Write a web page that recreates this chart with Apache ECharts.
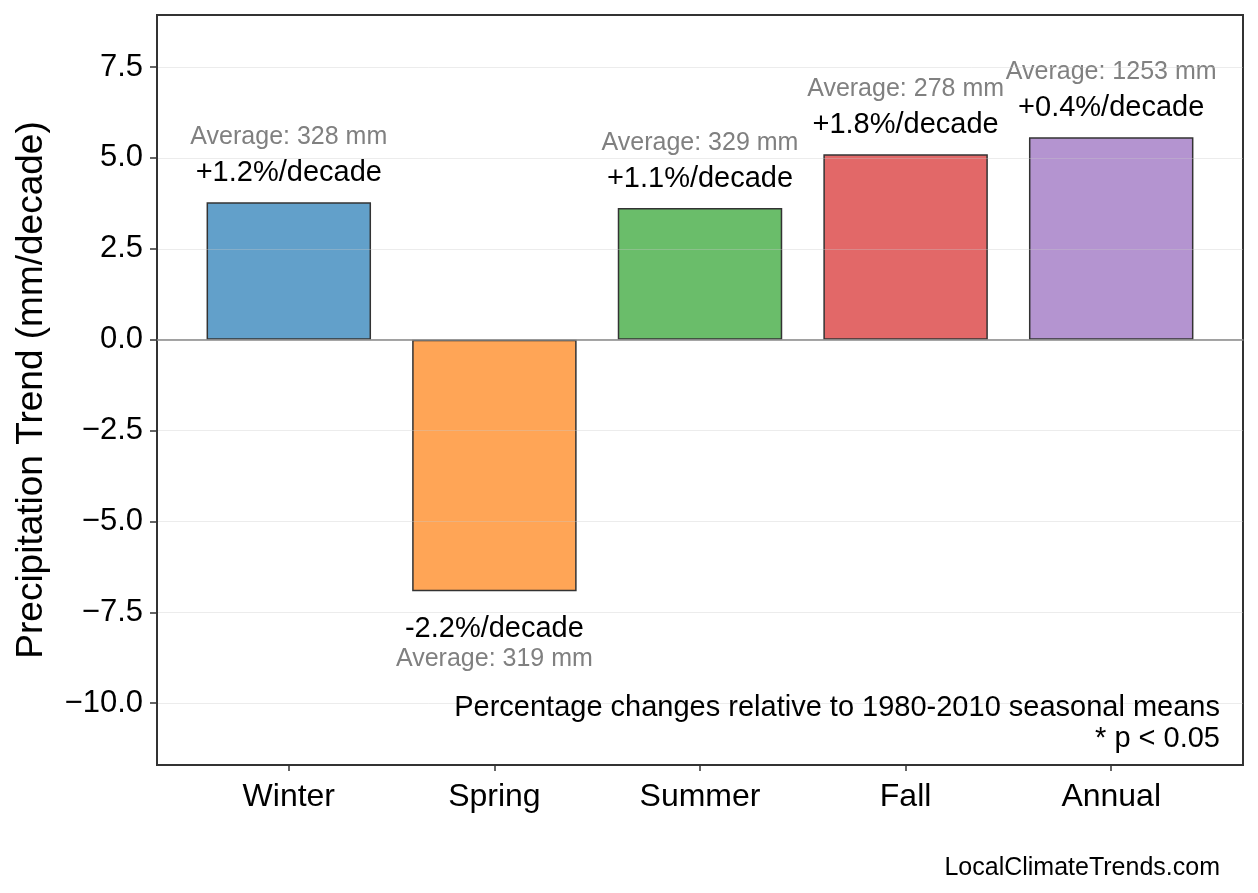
<!DOCTYPE html>
<html>
<head>
<meta charset="utf-8">
<script src="https://cdn.jsdelivr.net/npm/echarts@6/dist/echarts.min.js"></script>
<style>
html,body{margin:0;padding:0;background:#fff;}
#chart{width:1258px;height:893px;}
</style>
</head>
<body>
<div id="chart"></div>
<script>
const categories = ['Winter', 'Spring', 'Summer', 'Fall', 'Annual'];
const trends = [3.78, -6.92, 3.62, 5.10, 5.57];
const pctChanges = ['+1.2', '-2.2', '+1.1', '+1.8', '+0.4'];
const averages = [328, 319, 329, 278, 1253];
const barColors = ['#62a0ca', '#ffa556', '#6abd6a', '#e26868', '#b494d0'];
const yTicks = [-10, -7.5, -5, -2.5, 0, 2.5, 5, 7.5];
const yMin = -11.7, yMax = 8.93;

const FONT = '"Liberation Sans", Arial, Helvetica, sans-serif';

const chart = echarts.init(document.getElementById('chart'), null, {renderer: 'canvas'});

const barData = trends.map((v, i) => ({
  value: v,
  itemStyle: {color: barColors[i]},
  label: v >= 0 ? {
    position: 'top', distance: 12,
    formatter: '{avg|Average: ' + averages[i] + ' mm}\n{pct|' + pctChanges[i] + '%/decade}'
  } : {
    position: 'bottom', distance: 21,
    formatter: '{pct|' + pctChanges[i] + '%/decade}\n{avgB|Average: ' + averages[i] + ' mm}'
  }
}));

const option = {
  backgroundColor: '#ffffff',
  animation: false,
  textStyle: {fontFamily: FONT},
  title: [
    {
      text: 'Percentage changes relative to 1980-2010 seasonal means',
      right: 33, top: 687,
      textStyle: {fontFamily: FONT, fontSize: 29, fontWeight: 'normal', color: '#000', lineHeight: 31}
    },
    {
      text: '* p < 0.05',
      right: 33, top: 718,
      textStyle: {fontFamily: FONT, fontSize: 29, fontWeight: 'normal', color: '#000', lineHeight: 31}
    },
    {
      text: 'LocalClimateTrends.com',
      right: 33, top: 850,
      textStyle: {fontFamily: FONT, fontSize: 25, fontWeight: 'normal', color: '#000', lineHeight: 26}
    }
  ],
  grid: [
    {left: 157, right: 15, top: 15, bottom: 128, show: true, borderColor: '#333', borderWidth: 2, backgroundColor: 'transparent', containLabel: false},
    {left: 186, right: 44, top: 15, bottom: 128, containLabel: false}
  ],
  xAxis: [
    {
      gridIndex: 0, type: 'value', min: 0, max: 1, z: 3,
      axisLine: {show: true, onZero: true, lineStyle: {color: '#888', width: 1.5}},
      axisTick: {show: false}, axisLabel: {show: false}, splitLine: {show: false}
    },
    {
      gridIndex: 1, type: 'category', data: categories,
      axisLine: {show: false, onZero: false},
      axisTick: {show: true, alignWithLabel: true, length: 6, lineStyle: {color: '#333', width: 1.5}},
      axisLabel: {fontFamily: FONT, fontSize: 32, color: '#000', margin: 16},
      splitLine: {show: false}
    }
  ],
  yAxis: [
    {
      gridIndex: 0, type: 'value', min: yMin, max: yMax, z: 3,
      name: 'Precipitation Trend (mm/decade)', nameLocation: 'middle', nameGap: 107,
      nameTextStyle: {fontFamily: FONT, fontSize: 37, color: '#000'},
      axisLine: {show: true, lineStyle: {color: '#333', width: 2}},
      axisTick: {show: true, length: 7, customValues: yTicks, lineStyle: {color: '#333', width: 1.5}},
      axisLabel: {
        customValues: yTicks, fontFamily: FONT, fontSize: 31, color: '#000', margin: 14,
        formatter: v => (v < 0 ? '\u2212' : '') + Math.abs(v).toFixed(1)
      },
      splitLine: {show: true, lineStyle: {color: 'rgba(200,200,200,0.35)', width: 1}}
    },
    {
      gridIndex: 1, type: 'value', min: yMin, max: yMax, show: false,
      splitLine: {show: false}
    }
  ],
  series: [
    {
      type: 'bar', xAxisIndex: 1, yAxisIndex: 1,
      data: barData, barWidth: '80%', z: 2,
      itemStyle: {borderColor: '#333', borderWidth: 1.5},
      label: {
        show: true, fontFamily: FONT,
        rich: {
          avg: {fontFamily: FONT, fontSize: 25, color: '#808080', lineHeight: 38, align: 'center'},
          avgB: {fontFamily: FONT, fontSize: 25, color: '#808080', lineHeight: 26, align: 'center'},
          pct: {fontFamily: FONT, fontSize: 29, color: '#000', lineHeight: 34, align: 'center'}
        }
      }
    }
  ]
};

chart.setOption(option);
</script>
</body>
</html>
